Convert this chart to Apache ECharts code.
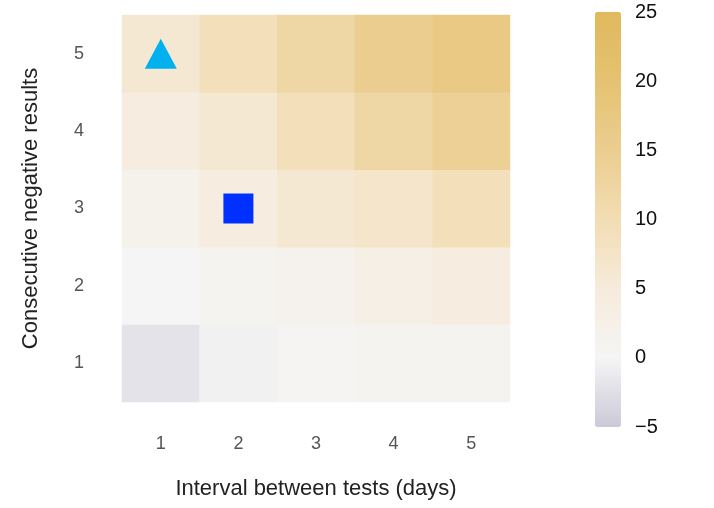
<!DOCTYPE html><html><head><meta charset="utf-8"><script src="https://cdn.jsdelivr.net/npm/echarts@6/dist/echarts.min.js"></script>
<style>body{margin:0;background:#fff}#c{width:714px;height:508px}</style></head><body><div id="c"></div><script>
const intervals=['1','2','3','4','5'];
const negatives=['1','2','3','4','5'];
const values=[
 [-2,-0.5,0.3,1,1.2],
 [0,1,1.5,3,4],
 [2,4,6,7,9],
 [4,6,9,12,14],
 [6,9,12,15,17]
];
const triangle=[['1','5']];
const square=[['2','3']];
const data=[];
values.forEach((row,i)=>row.forEach((v,j)=>data.push([j,i,v])));
const chart=echarts.init(document.getElementById('c'));
const lab={color:'#555',fontSize:18,fontFamily:'Liberation Sans'};
chart.setOption({
 animation:false,
 grid:[{left:122,top:15,width:388,height:387},{left:595,top:12,width:26,height:415}],
 xAxis:[{type:'category',data:intervals,gridIndex:0,axisLine:{show:false},axisTick:{show:false},axisLabel:Object.assign({margin:33},lab),
   name:'Interval between tests (days)',nameLocation:'middle',nameGap:76,nameTextStyle:{fontSize:22,color:'#222',fontFamily:'Liberation Sans'}},
  {type:'value',gridIndex:1,show:false,min:0,max:1}],
 yAxis:[{type:'category',data:negatives,gridIndex:0,axisLine:{show:false},axisTick:{show:false},axisLabel:Object.assign({margin:38},lab),
   name:'Consecutive negative results',nameLocation:'middle',nameGap:80,nameTextStyle:{fontSize:22,color:'#222',fontFamily:'Liberation Sans'}},
  {type:'value',gridIndex:1,min:-5,max:25,interval:5,position:'right',axisLine:{show:false},splitLine:{show:false},
   axisTick:{show:true,inside:true,length:5,lineStyle:{color:'#fff'}},
   axisLabel:{color:'#111',fontSize:20,margin:14,fontFamily:'Liberation Sans',formatter:v=>v<0?'\u2212'+(-v):v}}],
 visualMap:{type:'continuous',min:-5,max:25,calculable:false,seriesIndex:0,left:595,top:12,itemWidth:26,itemHeight:415,padding:0,text:['',''],showLabel:false,
   inRange:{color:['#cbc9d8','#f5f5f5','#f6ebdb','#f2ddb3','#ebcd8f','#e5c272','#e0b95c']}},
 series:[
  {type:'heatmap',data:data,xAxisIndex:0,yAxisIndex:0},
  {type:'scatter',data:triangle,symbol:'triangle',symbolSize:[32,30],itemStyle:{color:'#00b0ef',opacity:1},xAxisIndex:0,yAxisIndex:0},
  {type:'scatter',data:square,symbol:'rect',symbolSize:30,itemStyle:{color:'#0030ff',opacity:1},xAxisIndex:0,yAxisIndex:0}
 ]
});
</script></body></html>
